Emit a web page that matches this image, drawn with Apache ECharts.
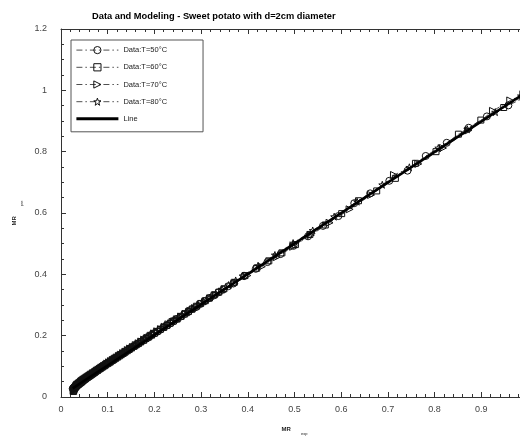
<!DOCTYPE html>
<html>
<head>
<meta charset="utf-8">
<script src="https://cdn.jsdelivr.net/npm/echarts@6/dist/echarts.min.js"></script>
<style>
	html, body { margin: 0; padding: 0; background: #fff; }
	#main { width: 520px; height: 437px; }
</style>
</head>
<body>
<div id="main"></div>
<script>
	// [MR exp, MR pre] pairs
	var data50 = [[1.000,0.982],[0.958,0.951],[0.912,0.915],[0.873,0.878],[0.826,0.829],[0.781,0.786],[0.742,0.738],[0.703,0.705],[0.662,0.664],[0.628,0.632],[0.594,0.590],[0.561,0.558],[0.529,0.524],[0.498,0.493],[0.470,0.466],[0.442,0.440],[0.417,0.418],[0.392,0.394],[0.369,0.370],[0.358,0.361],[0.347,0.350],[0.337,0.341],[0.327,0.331],[0.317,0.322],[0.307,0.312],[0.298,0.303],[0.289,0.293],[0.280,0.286],[0.272,0.277],[0.264,0.270],[0.256,0.262],[0.248,0.254],[0.241,0.247],[0.234,0.240],[0.227,0.233],[0.220,0.227],[0.213,0.220],[0.207,0.214],[0.201,0.208],[0.195,0.203],[0.189,0.197],[0.183,0.191],[0.178,0.186],[0.172,0.181],[0.167,0.175],[0.162,0.171],[0.157,0.166],[0.152,0.162],[0.148,0.157],[0.143,0.153],[0.139,0.149],[0.135,0.145],[0.131,0.141],[0.127,0.138],[0.123,0.134],[0.119,0.130],[0.116,0.127],[0.112,0.123],[0.109,0.120],[0.106,0.117],[0.103,0.114],[0.100,0.111],[0.097,0.108],[0.094,0.105],[0.091,0.102],[0.088,0.099],[0.085,0.096],[0.082,0.093],[0.080,0.090],[0.077,0.087],[0.075,0.085],[0.073,0.082],[0.071,0.080],[0.068,0.077],[0.066,0.075],[0.064,0.072],[0.062,0.070],[0.060,0.068],[0.058,0.066],[0.056,0.064],[0.055,0.062],[0.053,0.060],[0.051,0.058],[0.049,0.056],[0.048,0.054],[0.046,0.052],[0.045,0.051],[0.043,0.049],[0.042,0.048],[0.041,0.046],[0.040,0.045],[0.038,0.043],[0.037,0.042],[0.036,0.041],[0.035,0.040],[0.034,0.038],[0.033,0.037],[0.032,0.036],[0.031,0.035],[0.030,0.033],[0.029,0.032],[0.028,0.031],[0.027,0.030],[0.026,0.029],[0.025,0.027]];

	var data60 = [[0.995,0.985],[0.948,0.944],[0.899,0.903],[0.851,0.857],[0.803,0.800],[0.759,0.762],[0.716,0.713],[0.676,0.672],[0.637,0.640],[0.601,0.598],[0.566,0.561],[0.533,0.530],[0.502,0.497],[0.473,0.470],[0.445,0.444],[0.419,0.420],[0.394,0.396],[0.371,0.374],[0.349,0.353],[0.338,0.342],[0.328,0.333],[0.318,0.323],[0.309,0.314],[0.299,0.305],[0.290,0.296],[0.281,0.287],[0.273,0.279],[0.265,0.271],[0.257,0.263],[0.249,0.255],[0.241,0.248],[0.234,0.241],[0.227,0.234],[0.220,0.227],[0.213,0.221],[0.206,0.214],[0.200,0.208],[0.194,0.202],[0.188,0.196],[0.182,0.191],[0.177,0.185],[0.171,0.180],[0.166,0.175],[0.161,0.170],[0.156,0.165],[0.151,0.160],[0.146,0.155],[0.142,0.151],[0.137,0.146],[0.133,0.142],[0.129,0.138],[0.125,0.134],[0.121,0.130],[0.117,0.126],[0.113,0.122],[0.110,0.119],[0.106,0.115],[0.103,0.112],[0.100,0.109],[0.096,0.105],[0.093,0.102],[0.090,0.099],[0.087,0.096],[0.084,0.093],[0.082,0.091],[0.079,0.088],[0.077,0.086],[0.074,0.083],[0.072,0.080],[0.069,0.077],[0.067,0.075],[0.065,0.073],[0.063,0.071],[0.061,0.069],[0.059,0.067],[0.057,0.065],[0.055,0.063],[0.053,0.061],[0.052,0.059],[0.050,0.057],[0.048,0.055],[0.047,0.053],[0.045,0.051],[0.044,0.049],[0.042,0.047],[0.041,0.046],[0.039,0.044],[0.038,0.042],[0.037,0.041],[0.035,0.039],[0.034,0.037],[0.033,0.036],[0.032,0.034],[0.031,0.032],[0.030,0.030],[0.029,0.027],[0.028,0.024],[0.027,0.021],[0.027,0.018]];

	var data70 = [[0.990,0.987],[0.962,0.967],[0.925,0.933],[0.872,0.869],[0.818,0.812],[0.765,0.760],[0.713,0.724],[0.664,0.659],[0.618,0.612],[0.575,0.568],[0.535,0.528],[0.497,0.490],[0.462,0.456],[0.430,0.425],[0.399,0.396],[0.371,0.369],[0.345,0.344],[0.332,0.332],[0.320,0.320],[0.309,0.310],[0.298,0.300],[0.287,0.290],[0.277,0.281],[0.267,0.271],[0.257,0.262],[0.248,0.253],[0.239,0.245],[0.230,0.237],[0.222,0.229],[0.214,0.221],[0.206,0.214],[0.199,0.207],[0.192,0.200],[0.185,0.193],[0.178,0.187],[0.172,0.181],[0.166,0.175],[0.160,0.169],[0.154,0.163],[0.148,0.158],[0.143,0.153],[0.138,0.148],[0.133,0.143],[0.128,0.138],[0.124,0.134],[0.119,0.129],[0.115,0.125],[0.111,0.121],[0.107,0.117],[0.103,0.113],[0.099,0.109],[0.096,0.105],[0.092,0.101],[0.089,0.098],[0.086,0.095],[0.083,0.092],[0.080,0.089],[0.077,0.086],[0.074,0.083],[0.072,0.080],[0.069,0.078],[0.067,0.075],[0.064,0.073],[0.062,0.070],[0.060,0.068],[0.058,0.066],[0.056,0.064],[0.054,0.062],[0.052,0.060],[0.050,0.058],[0.048,0.056],[0.046,0.054],[0.045,0.052],[0.043,0.050],[0.042,0.048],[0.040,0.046],[0.039,0.044],[0.038,0.043],[0.036,0.041],[0.035,0.040],[0.034,0.038],[0.033,0.036],[0.032,0.034],[0.031,0.031],[0.030,0.028],[0.029,0.025],[0.028,0.022],[0.027,0.020]];

	var data80 = [[0.985,0.982],[0.930,0.929],[0.870,0.873],[0.808,0.812],[0.746,0.749],[0.688,0.692],[0.634,0.637],[0.585,0.588],[0.539,0.543],[0.497,0.502],[0.458,0.463],[0.422,0.428],[0.389,0.395],[0.374,0.380],[0.359,0.365],[0.345,0.351],[0.331,0.337],[0.318,0.324],[0.305,0.312],[0.293,0.300],[0.281,0.288],[0.270,0.277],[0.259,0.266],[0.249,0.256],[0.239,0.247],[0.229,0.238],[0.220,0.229],[0.211,0.220],[0.203,0.212],[0.195,0.204],[0.187,0.196],[0.179,0.189],[0.172,0.182],[0.165,0.175],[0.159,0.169],[0.152,0.163],[0.146,0.157],[0.140,0.151],[0.135,0.146],[0.129,0.140],[0.124,0.135],[0.119,0.130],[0.115,0.125],[0.110,0.120],[0.106,0.116],[0.101,0.112],[0.097,0.108],[0.094,0.104],[0.090,0.100],[0.086,0.096],[0.083,0.093],[0.080,0.089],[0.076,0.086],[0.073,0.083],[0.070,0.080],[0.068,0.077],[0.065,0.074],[0.062,0.071],[0.060,0.069],[0.058,0.066],[0.055,0.064],[0.053,0.061],[0.051,0.059],[0.049,0.057],[0.047,0.055],[0.045,0.052],[0.043,0.050],[0.041,0.048],[0.040,0.046],[0.038,0.044],[0.037,0.042],[0.035,0.041],[0.034,0.039],[0.032,0.037],[0.031,0.035],[0.030,0.033],[0.029,0.031],[0.028,0.029],[0.027,0.027]];

	// fitted line end points
	var dataLine = [[0.025, 0.028], [1.0, 0.998]];

	var seriesNames = ['Data:T=50°C', 'Data:T=60°C', 'Data:T=70°C', 'Data:T=80°C', 'Line'];

	var starPath = 'path://M0,-10L2.35,-3.24L9.51,-3.09L3.8,1.24L5.88,8.09L0,4L-5.88,8.09L-3.8,1.24L-9.51,-3.09L-2.35,-3.24Z';
	var FONT = 'Liberation Sans, Arial, sans-serif';

	function dataSeries(name, data, symbol, rotate, size) {
		return {
			name : name,
			type : 'line',
			data : data,
			symbol : symbol,
			symbolSize : size,
			symbolRotate : rotate,
			showSymbol : true,
			showAllSymbol : true,
			lineStyle : {
				color : '#222',
				width : 0.8,
				type : [6, 3, 1.5, 3]
			},
			itemStyle : {
				color : 'rgba(255,255,255,0)',
				borderColor : '#111',
				borderWidth : 1
			},
			emphasis : { disabled : true }
		};
	}

	var axisLine = { show : true, onZero : false, lineStyle : { color : '#333', width : 1 } };
	var tickStyle = { color : '#333' };

	var option = {
		animation : false,
		title : {
			text : 'Data and Modeling - Sweet potato with d=2cm diameter',
			left : 87,
			top : 7,
			textStyle : { fontFamily : FONT, fontSize : 9.3, fontWeight : 'bold', color : '#000' }
		},
		legend : {
			orient : 'vertical',
			left : 71,
			top : 40,
			padding : [6, 36, 9, 5],
			itemWidth : 42,
			itemHeight : 9,
			itemGap : 9,
			borderColor : '#555',
			borderWidth : 1,
			lineStyle : { width : 'inherit' },
			itemStyle : { borderWidth : 'inherit' },
			data : [
				{ name : seriesNames[0] },
				{ name : seriesNames[1] },
				{ name : seriesNames[2] },
				{ name : seriesNames[3] },
				{ name : seriesNames[4], icon : 'path://M0,0H42V3H0Z' }
			],
			textStyle : { fontFamily : FONT, fontSize : 7.5, color : '#222' }
		},
		grid : {
			left : 61,
			right : -8,
			top : 29,
			bottom : 40,
			outerBoundsMode : 'none',
			containLabel : false
		},
		xAxis : [{
			type : 'value',
			min : 0,
			max : 1,
			interval : 0.1,
			name : '{a|MR}{b|exp}',
			nameLocation : 'middle',
			nameGap : 26,
			nameTextStyle : {
				rich : {
					a : { fontFamily : FONT, fontSize : 6, fontWeight : 'bold', color : '#222' },
					b : { fontFamily : FONT, fontSize : 4, color : '#222', padding : [9, 0, 0, 10] }
				}
			},
			axisLine : axisLine,
			axisTick : { inside : true, length : 5, lineStyle : tickStyle },
			minorTick : { show : true, splitNumber : 5, length : 3, lineStyle : tickStyle },
			axisLabel : { margin : 8, fontFamily : FONT, fontSize : 9, color : '#444' },
			splitLine : { show : false }
		}, {
			type : 'value',
			position : 'top',
			min : 0,
			max : 1,
			interval : 0.1,
			axisLine : axisLine,
			axisTick : { inside : true, length : 5, lineStyle : tickStyle },
			minorTick : { show : true, splitNumber : 5, length : 3, lineStyle : tickStyle },
			axisLabel : { show : false },
			splitLine : { show : false }
		}],
		yAxis : [{
			type : 'value',
			min : 0,
			max : 1.2,
			interval : 0.2,
			name : '{a|MR}{b|pre}',
			nameLocation : 'middle',
			nameRotate : 90,
			nameGap : 37,
			nameTextStyle : {
				rich : {
					a : { fontFamily : FONT, fontSize : 6, fontWeight : 'bold', color : '#222' },
					b : { fontFamily : FONT, fontSize : 4, color : '#222', padding : [15, 0, 0, 10] }
				}
			},
			axisLine : axisLine,
			axisTick : { inside : true, length : 5, lineStyle : tickStyle },
			minorTick : { show : true, splitNumber : 4, length : 3, lineStyle : tickStyle },
			axisLabel : { margin : 14, fontFamily : FONT, fontSize : 9, color : '#444', padding : [0, 0, 7, 0] },
			splitLine : { show : false }
		}],
		series : [
			dataSeries(seriesNames[0], data50, 'circle', 0, 7),
			dataSeries(seriesNames[1], data60, 'rect', 0, 6),
			dataSeries(seriesNames[2], data70, 'triangle', -90, 7),
			dataSeries(seriesNames[3], data80, starPath, 0, 7),
			{
				name : seriesNames[4],
				type : 'line',
				data : dataLine,
				symbol : 'none',
				z : 5,
				lineStyle : { color : '#000', width : 2.5 },
				itemStyle : { color : '#000' },
				emphasis : { disabled : true }
			}
		]
	};

	var chart = echarts.init(document.getElementById('main'));
	chart.setOption(option, true);
</script>
</body>
</html>
